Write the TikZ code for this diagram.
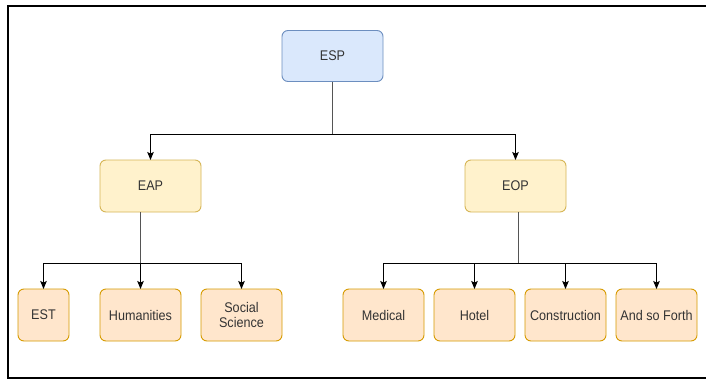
\documentclass[tikz,border=0pt]{standalone}
\usepackage{fontspec}
\setmainfont{Liberation Sans}[FakeStretch=0.9]
\usetikzlibrary{arrows.meta}
\definecolor{blueF}{HTML}{DAE8FC}
\definecolor{blueD}{HTML}{6C8EBF}
\definecolor{yelF}{HTML}{FFF2CC}
\definecolor{yelD}{HTML}{D6B656}
\definecolor{orF}{HTML}{FFE6CC}
\definecolor{orD}{HTML}{D79B00}
\definecolor{txt}{HTML}{333333}
\definecolor{trunk}{HTML}{555555}
\tikzset{
  box/.style={rounded corners=6pt, line width=0.9pt, inner sep=0pt, outer sep=0pt,
    minimum height=52pt, text=txt, align=center,
    font=\fontsize{14}{15.5}\selectfont},
  rootbox/.style={box, fill=blueF, draw=blueD, minimum width=101pt, minimum height=51pt},
  midbox/.style={box, fill=yelF, draw=yelD, minimum width=101pt},
  leafbox/.style={box, fill=orF, draw=orD, minimum width=81pt},
  conn/.style={line width=0.9pt, black, -{Stealth[length=8pt,width=6.5pt,inset=1.5pt]}},
  trunkline/.style={line width=0.9pt, trunk},
  frame/.style={line width=1.4pt, black}
}
\begin{document}
\begin{tikzpicture}[x=1pt,y=-1pt]
\useasboundingbox (0,0) rectangle (706,380);
\fill[white] (0,0) rectangle (706,380);
% frame
\draw[frame] (706,6) -- (8,6) -- (8,378) -- (706,378);
% nodes
\node[rootbox] (esp) at (332.5,56) {ESP};
\node[midbox] (eap) at (150.5,186) {EAP};
\node[midbox] (eop) at (515.5,186) {EOP};
\node[leafbox, minimum width=51pt] (est) at (43.5,315) {EST};
\node[leafbox] (hum) at (140.5,315) {Humanities};
\node[leafbox] (soc) at (241.5,315) {Social\\Science};
\node[leafbox] (med) at (383.5,315) {Medical};
\node[leafbox] (hot) at (474.5,315) {Hotel};
\node[leafbox] (con) at (565.5,315) {Construction};
\node[leafbox] (asf) at (656.5,315) {And so Forth};
% bus coordinates
\coordinate (b1) at (332.5,134);
\coordinate (b2) at (140.5,263);
\coordinate (b3) at (518,263);
% trunks
\draw[trunkline] (esp.south) -- (b1);
\draw[trunkline] (eap.south -| b2) -- (b2);
\draw[trunkline] (eop.south -| b3) -- (b3);
% level 1
\draw[conn] (b1) -| (eap.north);
\draw[conn] (b1) -| (eop.north);
% EAP children
\draw[conn] (b2) -| (est.north);
\draw[conn] (b2) -- (hum.north);
\draw[conn] (b2) -| (soc.north);
% EOP children
\draw[conn] (b3) -| (med.north);
\draw[conn] (b3) -| (hot.north);
\draw[conn] (b3) -| (con.north);
\draw[conn] (b3) -| (asf.north);
\end{tikzpicture}
\end{document}
